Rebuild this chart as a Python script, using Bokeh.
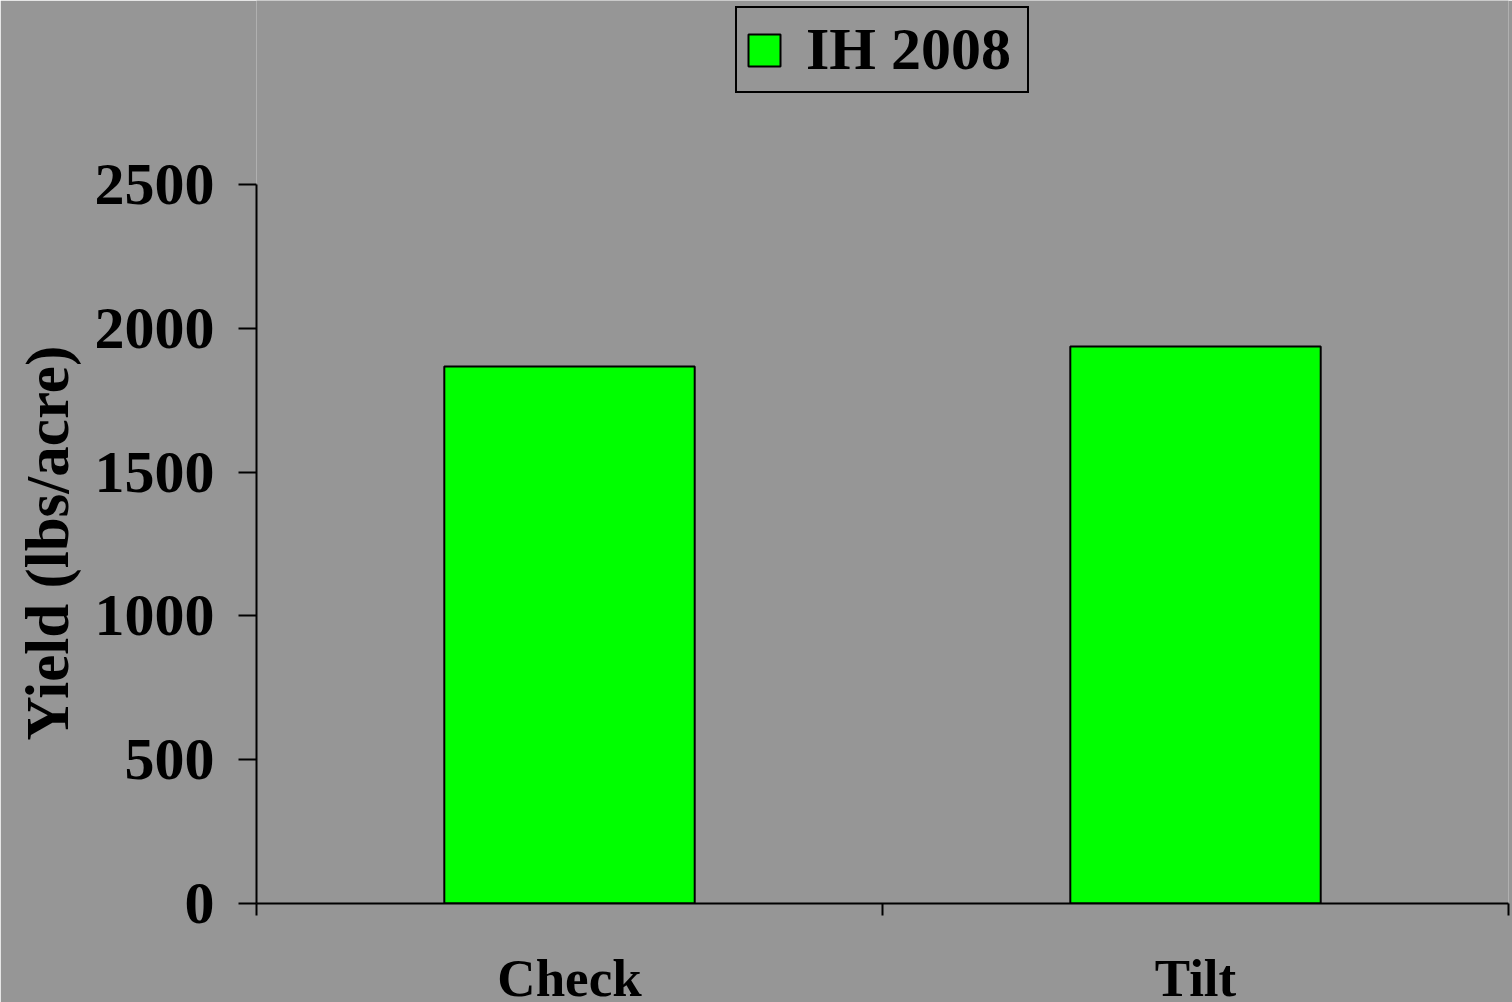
from bokeh.plotting import figure
from bokeh.models import Range1d, FixedTicker, Legend, LegendItem, ColumnDataSource, Title
from bokeh.embed import file_html
from bokeh.resources import INLINE

categories = ["Check", "Tilt"]
series_name = "IH 2008"
yields = [1867, 1937]
y_ticks = [0, 500, 1000, 1500, 2000, 2500]
y_max = 2500
y_title = "Yield (lbs/acre)"

BG = "#969696"
FONT = "Liberation Serif"

# layout: the value axis spans 719 px; the frame extends to the page top to host the legend
AXIS_PX = 719
FRAME_PX = 903

xs = [i + 0.5 for i in range(len(categories))]
src = ColumnDataSource(dict(x=xs, top=yields))

p = figure(frame_width=1252, frame_height=FRAME_PX, output_backend="svg", toolbar_location=None,
           x_range=Range1d(0, len(categories)), y_range=Range1d(0, y_max * FRAME_PX / AXIS_PX),
           min_border_left=256, min_border_right=4, min_border_top=0, min_border_bottom=99)
p.background_fill_color = BG
p.border_fill_color = BG
p.outline_line_color = None
p.xgrid.visible = False
p.ygrid.visible = False

r = p.vbar(x="x", top="top", width=0.4, source=src, fill_color="#00FF00",
           line_color="black", line_width=2)

# x axis
xa = p.xaxis[0]
xa.ticker = FixedTicker(ticks=xs, minor_ticks=list(range(len(categories) + 1)))
xa.major_label_overrides = {x: c for x, c in zip(xs, categories)}
xa.major_tick_out = 0
xa.major_tick_in = 0
xa.minor_tick_out = 12
xa.minor_tick_in = 0
xa.minor_tick_line_width = 2
xa.axis_line_width = 2
xa.major_label_text_font = FONT
xa.major_label_text_font_style = "bold"
xa.major_label_text_font_size = "53px"
xa.major_label_text_color = "black"
xa.major_label_standoff = 33

# y axis
ya = p.yaxis[0]
ya.bounds = (0, y_max)
ya.ticker = FixedTicker(ticks=y_ticks, minor_ticks=[])
ya.major_tick_out = 18
ya.major_tick_in = 0
ya.major_tick_line_width = 2
ya.axis_line_width = 2
ya.major_label_text_font = FONT
ya.major_label_text_font_style = "bold"
ya.major_label_text_font_size = "60px"
ya.major_label_text_color = "black"
ya.major_label_standoff = 24

# y axis title, placed along the value axis (not the taller frame)
yt = Title(text=y_title, align="left", offset=163,
           text_font=FONT, text_font_style="bold", text_font_size="61px",
           text_color="black", standoff=22)
p.add_layout(yt, "left")

legend = Legend(items=[LegendItem(label=series_name, renderers=[r])],
                location="top_center", orientation="horizontal")
legend.background_fill_alpha = 0
legend.border_line_color = "black"
legend.border_line_alpha = 1
legend.border_line_width = 2
legend.label_text_font = FONT
legend.label_text_font_style = "bold"
legend.label_text_font_size = "60px"
legend.label_text_color = "black"
legend.glyph_width = 40
legend.glyph_height = 40
legend.label_standoff = 22
legend.label_width = 214
legend.padding = 7
legend.margin = 6
legend.label_height = 40
p.add_layout(legend, "center")

html = file_html(p, INLINE)
html = html.replace("<body>", '<body style="margin:0;background:%s;overflow:hidden">' % BG, 1)
open("out.html", "w").write(html)
